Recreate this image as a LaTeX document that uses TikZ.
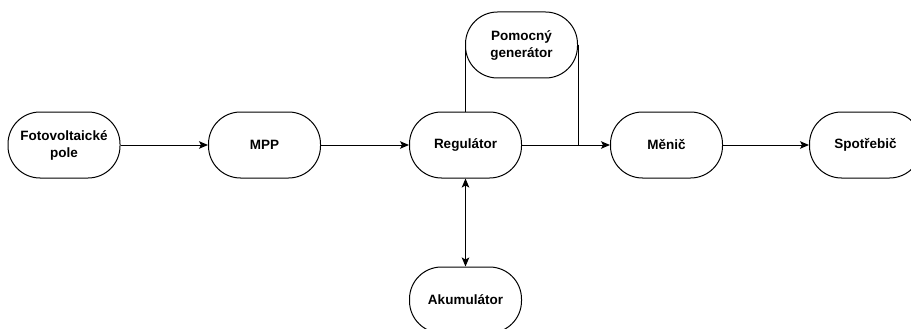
\documentclass[tikz,border=0pt]{standalone}
\usepackage{fontspec}
\setmainfont{Liberation Sans}
\usetikzlibrary{arrows.meta}
\begin{document}
\begin{tikzpicture}[x=1pt,y=-1pt,
  blk/.style={draw=black,line width=1pt,rounded corners=32pt,minimum width=112pt,minimum height=66pt,
    inner sep=0pt,align=center,font=\fontsize{13.5}{17}\selectfont\bfseries},
  conn/.style={draw=black,line width=1pt},
  arr/.style={conn,-{Stealth[length=9pt,width=7.5pt,inset=2pt]}},
  darr/.style={conn,{Stealth[length=9pt,width=7.5pt,inset=2pt]}-{Stealth[length=9pt,width=7.5pt,inset=2pt]}}]
\useasboundingbox (0,0) rectangle (911,329);
\clip (0,0) rectangle (911,329);
\node[blk] (fv) at (64,145) {Fotovoltaické\\pole};
\node[blk] (mpp) at (264.5,145) {MPP};
\node[blk] (reg) at (465.5,145) {Regulátor};
\node[blk] (gen) at (521.5,45) {Pomocný\\generátor};
\node[blk] (men) at (666.5,145) {Měnič};
\node[blk] (spo) at (865.5,145) {Spotřebič};
\node[blk] (aku) at (465.5,300) {Akumulátor};
\draw[arr] (fv) -- (mpp);
\draw[arr] (mpp) -- (reg);
\draw[arr] (reg) -- (men);
\draw[arr] (men) -- (spo);
\draw[darr] (reg) -- (aku);
\draw[conn] (gen.west) -- (gen.west |- reg.north);
\draw[conn] (gen.east) -- (gen.east |- reg.east);
\end{tikzpicture}
\end{document}
